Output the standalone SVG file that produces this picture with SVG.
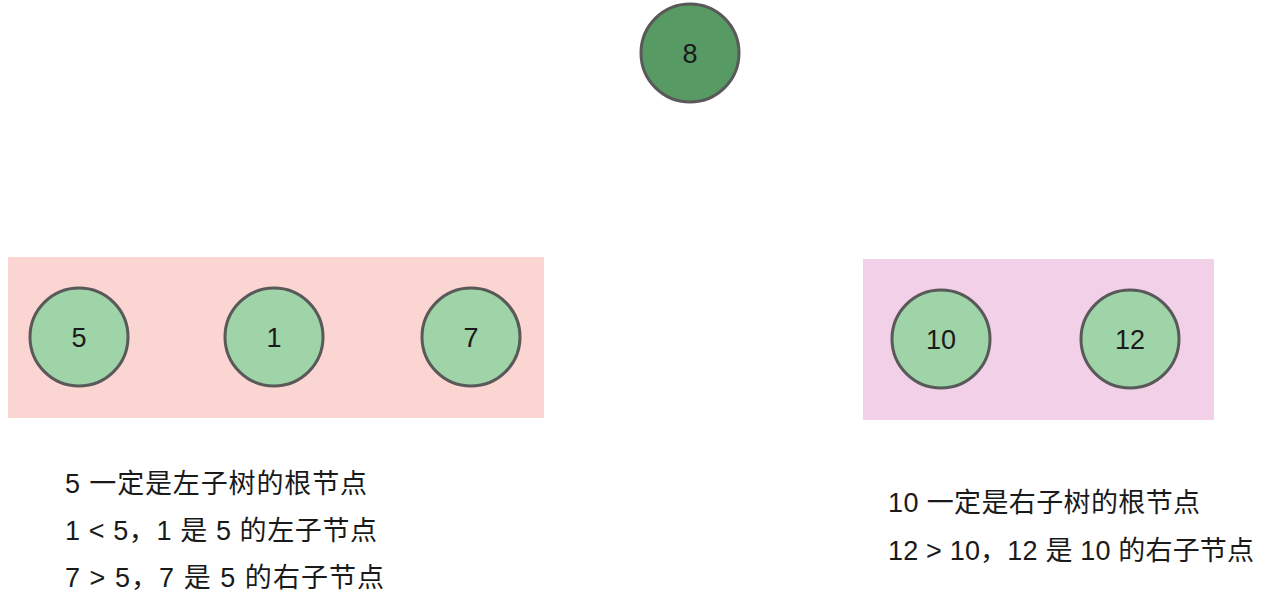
<svg xmlns="http://www.w3.org/2000/svg" width="1272" height="606" viewBox="0 0 1272 606">
<style>
.node circle{fill:#9fd3a8;stroke:#595959;stroke-width:3}
.root circle{fill:#579a63}
.lbl{font-family:"Liberation Sans","Noto Sans CJK SC",sans-serif;font-size:27px;fill:#1a1a1a;text-anchor:middle}
.txt{font-family:"Liberation Sans","Noto Sans CJK SC",sans-serif;font-size:27px;fill:#1a1a1a}
</style>
<rect x="8" y="257" width="536" height="161" fill="#fbd5d2"/>
<rect x="863" y="259" width="351" height="161" fill="#f1d0e8"/>
<g id="connectors"></g>
<g id="n8" class="node root"><circle cx="690" cy="53" r="49"/><text class="lbl" x="690" y="63">8</text></g>
<g id="n5" class="node"><circle cx="79" cy="337" r="49"/><text class="lbl" x="79" y="347">5</text></g>
<g id="n1" class="node"><circle cx="274" cy="337" r="49"/><text class="lbl" x="274" y="347">1</text></g>
<g id="n7" class="node"><circle cx="471" cy="337" r="49"/><text class="lbl" x="471" y="347">7</text></g>
<g id="n10" class="node"><circle cx="941" cy="339" r="49"/><text class="lbl" x="941" y="349">10</text></g>
<g id="n12" class="node"><circle cx="1130" cy="339" r="49"/><text class="lbl" x="1130" y="349">12</text></g>
<g id="notes">
<text class="txt" x="65" y="493" textLength="302" lengthAdjust="spacing">5 一定是左子树的根节点</text>
<text class="txt" x="65" y="540" textLength="312" lengthAdjust="spacing">1 &lt; 5，1 是 5 的左子节点</text>
<text class="txt" x="65" y="587" textLength="319" lengthAdjust="spacing">7 &gt; 5，7 是 5 的右子节点</text>
<text class="txt" x="888" y="512" textLength="312" lengthAdjust="spacing">10 一定是右子树的根节点</text>
<text class="txt" x="888" y="560" textLength="366" lengthAdjust="spacing">12 &gt; 10，12 是 10 的右子节点</text>
</g>
</svg>
